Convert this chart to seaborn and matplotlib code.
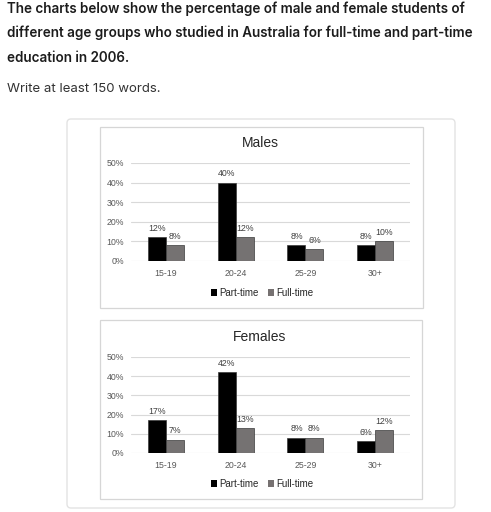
import matplotlib
matplotlib.use("Agg")
import matplotlib.pyplot as plt
from matplotlib.patches import FancyBboxPatch, Rectangle
import seaborn as sns
import pandas as pd

categories = ["15-19", "20-24", "25-29", "30+"]
series = ["Part-time", "Full-time"]
males_part = [12, 40, 8, 8]
males_full = [8, 12, 6, 10]
females_part = [17, 42, 8, 6]
females_full = [7, 13, 8, 12]
yticks = [0, 10, 20, 30, 40, 50]
ytick_labels = ["0%", "10%", "20%", "30%", "40%", "50%"]

header_lines = ["The charts below show the percentage of male and female students of",
                "different age groups who studied in Australia for full-time and part-time",
                "education in 2006."]
sub_line = "Write at least 150 words."

sns.set_theme(style="white")
plt.rcParams['font.family'] = ['Liberation Sans', 'DejaVu Sans']

W, H = 491, 512
fig = plt.figure(figsize=(W / 100, H / 100), dpi=100)
fig.patch.set_facecolor("white")

def fx(px):
    return px / W

def fy(py):
    return 1 - py / H

# header
for line, yc in zip(header_lines, [9, 33, 58]):
    fig.text(fx(7), fy(yc), line, fontsize=9.7, fontweight=600, color="#1c1c1c",
             va="center", ha="left", family=["Inter", "DejaVu Sans"])
fig.text(fx(7), fy(89), sub_line, fontsize=9.5, color="#333333",
         va="center", ha="left", family=["Inter", "DejaVu Sans"])

# card
card = FancyBboxPatch((fx(67), fy(508)), fx(455) - fx(67), fy(119) - fy(508),
                      boxstyle="round,pad=0,rounding_size=0.008",
                      transform=fig.transFigure, facecolor="white",
                      edgecolor="#e3e3e3", linewidth=1.0, zorder=-10)
fig.patches.append(card)

palette = {"Part-time": "#000000", "Full-time": "#767171"}

def draw_chart(part, full, title, box, ax_rect, title_y, legend_y):
    bx0, by0, bx1, by1 = box
    fig.patches.append(Rectangle((fx(bx0), fy(by1)), fx(bx1) - fx(bx0), fy(by0) - fy(by1),
                                 transform=fig.transFigure, facecolor="white",
                                 edgecolor="#d6d6d6", linewidth=0.9, zorder=-5))
    left, top, right, bottom = ax_rect
    ax = fig.add_axes([fx(left), fy(bottom), fx(right) - fx(left), fy(top) - fy(bottom)])
    ax.set_facecolor("none")
    df = pd.DataFrame({
        "age": categories * 2,
        "value": part + full,
        "type": [series[0]] * len(categories) + [series[1]] * len(categories),
    })
    sns.barplot(data=df, x="age", y="value", hue="type", order=categories,
                hue_order=series, palette=palette, width=0.514, ax=ax,
                edgecolor="#3a3a3a", linewidth=0.5, legend=False)
    for cont in ax.containers:
        ax.bar_label(cont, labels=[f"{int(v)}%" for v in cont.datavalues],
                     padding=3, fontsize=6.3, color="#404040")
    ax.set_ylim(0, 50)
    ax.set_xlim(-0.5, 3.5)
    ax.set_yticks(yticks)
    ax.set_yticklabels(ytick_labels)
    ax.yaxis.grid(True, color="#d9d9d9", linewidth=0.8)
    ax.set_axisbelow(True)
    for s in ax.spines.values():
        s.set_visible(False)
    ax.tick_params(axis="both", length=0, labelsize=6.3, labelcolor="#595959")
    ax.tick_params(axis="y", pad=5)
    ax.tick_params(axis="x", pad=6)
    ax.set_xlabel("")
    ax.set_ylabel("")
    fig.text(fx(260), fy(title_y), title, fontsize=10, color="#262626",
             ha="center", va="center")
    handles = [Rectangle((0, 0), 1, 1, facecolor=palette[s], edgecolor="none") for s in series]
    fig.legend(handles, series, loc="center", bbox_to_anchor=(fx(262), fy(legend_y)),
               ncol=2, frameon=False, fontsize=7, handlelength=0.6, handleheight=0.6,
               handletextpad=0.2, columnspacing=1.0, labelcolor="#262626")
    return ax

draw_chart(males_part, males_full, "Males", (100, 127, 423, 308),
           (131, 163, 410, 261), 143, 293)
draw_chart(females_part, females_full, "Females", (100, 320, 422, 499),
           (131, 357, 410, 453), 337, 484)

fig.savefig("out.png", dpi=100)
